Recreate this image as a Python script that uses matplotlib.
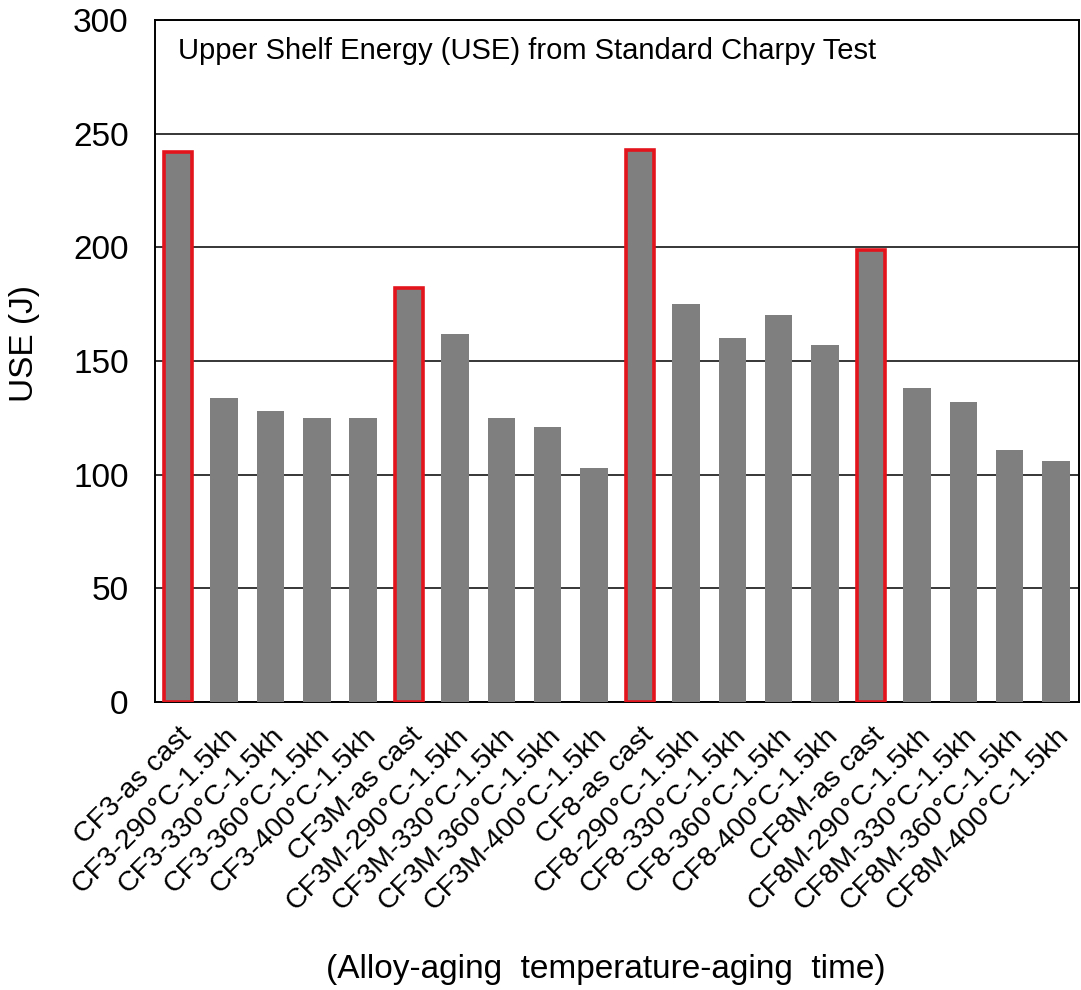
import matplotlib
matplotlib.use("Agg")
import matplotlib.pyplot as plt

plt.rcParams["font.family"] = ["Liberation Sans", "DejaVu Sans"]

alloys = ["CF3", "CF3M", "CF8", "CF8M"]
conditions = ["as cast", "290°C-1.5kh", "330°C-1.5kh", "360°C-1.5kh", "400°C-1.5kh"]
labels = [f"{a}-{c}" for a in alloys for c in conditions]

# energia USE en J, en el mismo orden que labels
use_cf3 = [242, 133.5, 128, 125, 125]
use_cf3m = [182, 162, 125, 121, 103]
use_cf8 = [243, 175, 160, 170, 157]
use_cf8m = [199, 138, 132, 111, 106]
use = use_cf3 + use_cf3m + use_cf8 + use_cf8m

yticks = [0, 50, 100, 150, 200, 250, 300]

fig = plt.figure(figsize=(10.81, 9.9), dpi=100)
ax = fig.add_axes([0.1434, 0.291, 0.8546, 0.6888])

x = range(len(use))
edges = ["#e3141c" if "as cast" in l else "none" for l in labels]
lws = [2.6 if "as cast" in l else 0 for l in labels]
ax.bar(x, use, width=0.6, color="#7f7f7f", edgecolor=edges, linewidth=lws, zorder=3)

ax.set_xlim(-0.5, len(use) - 0.5)
ax.set_ylim(0, 300)
ax.set_yticks(yticks)
ax.set_yticklabels([str(t) for t in yticks], fontsize=24)
ax.yaxis.grid(True, color="black", linewidth=1.1, zorder=1)
ax.tick_params(axis="y", length=0, pad=19)

ax.set_xticks(list(x))
ax.set_xticklabels(labels, rotation=45, ha="right", va="top",
                   rotation_mode="anchor", fontsize=20.5)
ax.tick_params(axis="x", length=0, pad=15)

for s in ax.spines.values():
    s.set_linewidth(1.4)

fig.text(24 / 1081, 1 - 343 / 990, "USE (J)", rotation=90, fontsize=24,
         ha="center", va="center")
ax.text(0.025, 0.975, "Upper Shelf Energy (USE) from Standard Charpy Test",
        transform=ax.transAxes, fontsize=21, ha="left", va="top")
fig.text(0.56, 0.021, "(Alloy-aging  temperature-aging  time)",
         fontsize=24, ha="center", va="center")

fig.savefig("out.png", dpi=100)
